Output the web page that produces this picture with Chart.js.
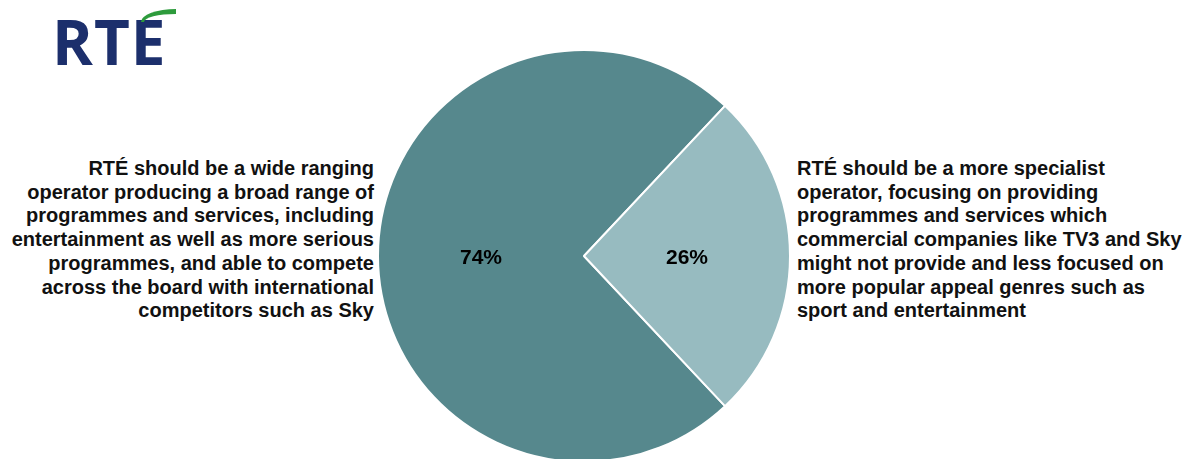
<!DOCTYPE html>
<html>
<head>
<meta charset="utf-8">
<script src="https://cdn.jsdelivr.net/npm/chart.js@4.4.1/dist/chart.umd.min.js"></script>
<style>
  body { margin:0; width:1197px; height:459px; overflow:hidden; background:#fff; position:relative; font-family:"Liberation Sans", Arial, sans-serif; }
  #logo { position:absolute; left:52px; top:10px; font-family:"Open Sans", sans-serif; font-weight:700; font-size:62px; line-height:62px; color:#1c2f6c; letter-spacing:1px; }
  #accent { position:absolute; left:141px; top:9px; width:32px; height:8px; border-top:5px solid #2d9b3c; border-left:3px solid #2d9b3c; border-radius:100% 0 0 0 / 100% 0 0 0; }
  .side { position:absolute; font-weight:bold; font-size:20px; line-height:23.7px; color:#111; }
  #leftText { right:823px; top:157px; text-align:right; }
  #rightText { left:797px; top:157px; text-align:left; }
  #box { position:absolute; left:377px; top:49px; width:414px; height:414px; }
</style>
</head>
<body>
<div id="logo">RTE</div>
<div id="accent"></div>
<div class="side" id="leftText"></div>
<div class="side" id="rightText"></div>
<div id="box"><canvas id="pieChart"></canvas></div>
<script>
const optionLabels=[
  ['RTÉ should be a wide ranging','operator producing a broad range of','programmes and services, including','entertainment as well as more serious','programmes, and able to compete','across the board with international','competitors such as Sky'],
  ['RTÉ should be a more specialist','operator, focusing on providing','programmes and services which','commercial companies like TV3 and Sky','might not provide and less focused on','more popular appeal genres such as','sport and entertainment']
]
const shares=[74,26]
const sliceColors=['#56888d','#97bbc0']

document.getElementById('leftText').innerHTML=optionLabels[0].join('<br>')
document.getElementById('rightText').innerHTML=optionLabels[1].join('<br>')

const percentLabels={
  id:'percentLabels',
  afterDatasetsDraw(chart){
    const ctx=chart.ctx
    const meta=chart.getDatasetMeta(0)
    ctx.save()
    ctx.font='bold 21px "Liberation Sans", Arial, sans-serif'
    ctx.fillStyle='#000'
    ctx.textAlign='center'
    ctx.textBaseline='middle'
    meta.data.forEach((arc,i)=>{
      const mid=(arc.startAngle+arc.endAngle)/2
      const r=arc.outerRadius*0.5
      ctx.fillText(shares[i]+'%',arc.x+Math.cos(mid)*r,arc.y+2+Math.sin(mid)*r)
    })
    ctx.restore()
  }
}

new Chart(document.getElementById('pieChart'),{
  type:'pie',
  data:{
    labels:['Wide ranging','More specialist'],
    datasets:[{
      data:shares,
      backgroundColor:sliceColors,
      borderColor:'#ffffff',
      borderWidth:2
    }]
  },
  options:{
    responsive:true,
    maintainAspectRatio:false,
    animation:false,
    rotation:136.8,
    layout:{padding:0},
    plugins:{legend:{display:false},tooltip:{enabled:false}}
  },
  plugins:[percentLabels]
})
</script>
</body>
</html>
